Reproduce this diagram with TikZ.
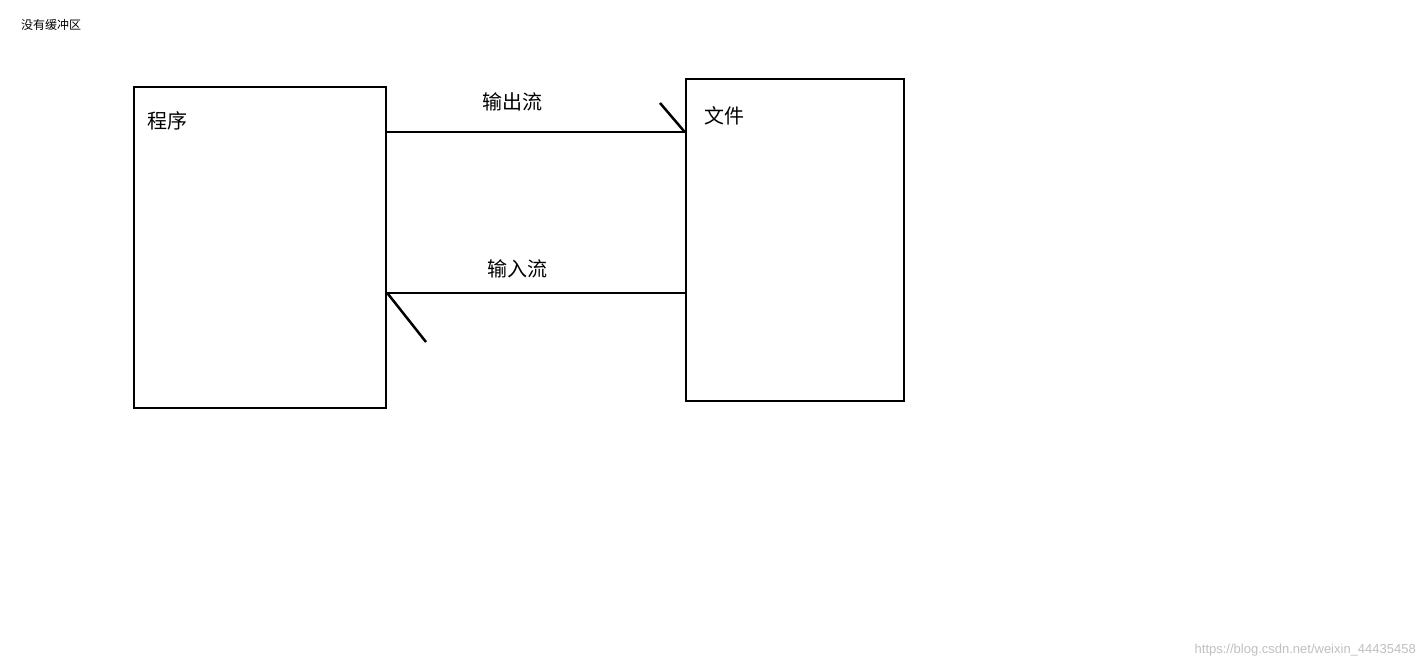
\documentclass[tikz,border=0pt]{standalone}
\usepackage{fontspec}
\newfontfamily\cjk{Noto Sans CJK SC}
\usetikzlibrary{positioning}
\tikzset{
  box/.style={draw, line width=2.5pt, inner sep=0pt},
  flow/.style={line width=2.5pt},
  lbl/.style={font=\cjk\fontsize{20}{24}\selectfont, inner sep=0pt}
}
\begin{document}
\begin{tikzpicture}[x=1pt,y=-1pt]
  \useasboundingbox (0,0) rectangle (1426,668);

  \node [lbl, font=\cjk\fontsize{12}{14}\selectfont] (title) at (51,25) {没有缓冲区};

  \node [box, minimum width=252pt, minimum height=321pt] (prog) at (260,247.5) {};
  \node [box, minimum width=218pt, minimum height=322pt] (file) at (795,240) {};

  \node [lbl] (progtext) at (167,121) {程序};
  \node [lbl] (filetext) at (724,116) {文件};

  \node [lbl] (outtext) at (512,102) {输出流};
  \node [lbl] (intext) at (517,269) {输入流};

  \coordinate (outy) at (0,132);
  \coordinate (iny) at (0,293);
  \coordinate (outtick) at (660,103);
  \coordinate (intick) at (426,342);

  % output stream
  \draw [flow] (prog.east |- outy) -- (file.west |- outy);
  \draw [flow] (outtick) -- (file.west |- outy);
  % input stream
  \draw [flow] (file.west |- iny) -- (prog.east |- iny);
  \draw [flow] (prog.east |- iny) -- (intick);

  \node [font=\fontspec{Liberation Sans}\fontsize{13}{15}\selectfont, text=black!25, anchor=east, inner sep=0pt] (mark) at (1416,650) {https://blog.csdn.net/weixin\_44435458};
\end{tikzpicture}
\end{document}
